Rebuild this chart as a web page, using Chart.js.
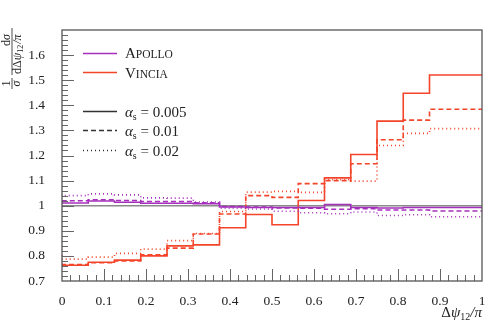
<!DOCTYPE html>
<html>
<head>
<meta charset="utf-8">
<script src="https://cdn.jsdelivr.net/npm/chart.js@4.4.1/dist/chart.umd.min.js"></script>
<style>
  html, body { margin: 0; padding: 0; background: #fff; }
  #wrap { width: 498px; height: 324px; }
</style>
</head>
<body>
<div id="wrap"><canvas id="chart"></canvas></div>
<script>
// bin edges of the histogram (x in units of pi)
const binEdges = [0, 0.0625, 0.125, 0.1875, 0.25, 0.3125, 0.375, 0.4375, 0.5,
                  0.5625, 0.625, 0.6875, 0.75, 0.8125, 0.875, 0.9375, 1];

// Apollo
const apolloA005 = [1.016, 1.011, 1.019, 1.014, 1.010, 1.010, 1.008, 0.995, 0.993, 0.993, 0.993, 1.005, 0.993, 0.991, 0.993, 0.993];
const apolloA01  = [1.019, 1.020, 1.024, 1.021, 1.017, 1.017, 1.012, 0.997, 0.995, 0.991, 0.990, 0.986, 0.988, 0.983, 0.983, 0.979];
const apolloA02  = [1.045, 1.040, 1.047, 1.043, 1.031, 1.030, 1.015, 0.990, 0.987, 0.978, 0.972, 0.968, 0.975, 0.961, 0.964, 0.956];

// Vincia
const vinciaA005 = [0.764, 0.763, 0.775, 0.783, 0.800, 0.840, 0.844, 0.912, 0.965, 0.924, 1.021, 1.111, 1.204, 1.337, 1.448, 1.521];
const vinciaA01  = [0.770, 0.766, 0.773, 0.780, 0.804, 0.831, 0.887, 0.967, 1.040, 1.033, 1.088, 1.100, 1.167, 1.263, 1.341, 1.384];
const vinciaA02  = [0.804, 0.787, 0.795, 0.810, 0.827, 0.861, 0.889, 0.977, 1.054, 1.057, 1.053, 1.104, 1.098, 1.240, 1.288, 1.307];

// reference line
const refLevel = 1;

const yTicks = [0.7, 0.8, 0.9, 1, 1.1, 1.2, 1.3, 1.4, 1.5, 1.6];

const PURPLE = '#a52fbc';
const RED = '#f4442a';
const SERIF = "'Liberation Serif', 'DejaVu Serif', serif";

function histo(vals) {
  return binEdges.map((x, i) => ({ x: x, y: vals[Math.min(i, vals.length - 1)] }));
}

function ds(vals, color, dash) {
  return {
    data: histo(vals),
    borderColor: color,
    borderWidth: 1.6,
    borderDash: dash,
    stepped: 'after',
    pointRadius: 0,
    fill: false
  };
}

const DASH = [5, 3];
const DOT = [1, 3];

function fmt(v) {
  return (Math.round(v * 10) / 10).toString();
}

// frame, inward ticks, legend and axis titles
const decorPlugin = {
  id: 'decor',
  afterDraw(chart) {
    const ctx = chart.ctx;
    const a = chart.chartArea;
    const xs = chart.scales.x, ys = chart.scales.y;
    ctx.save();

    // ticks
    ctx.strokeStyle = '#666';
    ctx.lineWidth = 1;
    for (let i = 1; i < 50; i++) {
      const px = Math.round(xs.getPixelForValue(i / 50)) + 0.5;
      const len = i % 5 === 0 ? 12 : 6;
      ctx.beginPath(); ctx.moveTo(px, a.bottom); ctx.lineTo(px, a.bottom - len); ctx.stroke();
    }
    for (let i = 1; i < 50; i++) {
      const py = Math.round(ys.getPixelForValue(0.7 + i * 0.02)) + 0.5;
      const len = i % 5 === 0 ? 12 : 6;
      ctx.beginPath(); ctx.moveTo(a.left, py); ctx.lineTo(a.left + len, py); ctx.stroke();
    }

    // frame
    ctx.strokeStyle = '#555';
    ctx.lineWidth = 1.3;
    ctx.strokeRect(a.left, a.top, a.right - a.left, a.bottom - a.top);

    // legend
    ctx.fillStyle = '#222';
    ctx.textBaseline = 'alphabetic';
    function smallCaps(text, x, y) {
      ctx.font = '15px ' + SERIF;
      ctx.fillText(text[0], x, y);
      let w = ctx.measureText(text[0]).width;
      ctx.font = '11.5px ' + SERIF;
      ctx.fillText(text.slice(1).toUpperCase(), x + w, y);
    }
    function legLine(y, color, dash) {
      ctx.strokeStyle = color;
      ctx.lineWidth = 1.6;
      ctx.setLineDash(dash);
      ctx.beginPath(); ctx.moveTo(83, y); ctx.lineTo(117, y); ctx.stroke();
      ctx.setLineDash([]);
    }
    legLine(53.5, PURPLE, []);
    smallCaps('Apollo', 125, 58);
    legLine(72.5, RED, []);
    smallCaps('Vincia', 125, 78);

    const alphaRows = [['0.005', 111.5, []], ['0.01', 130.5, DASH], ['0.02', 150.5, DOT]];
    alphaRows.forEach(r => {
      legLine(r[1], '#333', r[2]);
      let x = 125, y = r[1] + 5;
      ctx.fillStyle = '#222';
      ctx.font = 'italic 15px ' + SERIF;
      ctx.fillText('\u03b1', x, y);
      x += ctx.measureText('\u03b1').width;
      ctx.font = '10px ' + SERIF;
      ctx.fillText('s', x, y + 3);
      x += ctx.measureText('s').width;
      ctx.font = '15px ' + SERIF;
      ctx.fillText(' = ' + r[0], x, y);
    });

    // x axis title
    ctx.font = '15px ' + SERIF;
    const w1 = ctx.measureText('\u0394').width;
    ctx.font = 'italic 15px ' + SERIF;
    const w1b = ctx.measureText('\u03c8').width;
    ctx.font = '10px ' + SERIF;
    const w2 = ctx.measureText('12').width;
    ctx.font = 'italic 15px ' + SERIF;
    const w3 = ctx.measureText('/\u03c0').width;
    let tx = a.right - (w1 + w1b + w2 + w3);
    const ty = 317;
    ctx.font = '15px ' + SERIF;
    ctx.fillText('\u0394', tx, ty); tx += w1;
    ctx.font = 'italic 15px ' + SERIF;
    ctx.fillText('\u03c8', tx, ty); tx += w1b;
    ctx.font = '10px ' + SERIF;
    ctx.fillText('12', tx, ty + 3); tx += w2;
    ctx.font = 'italic 15px ' + SERIF;
    ctx.fillText('/\u03c0', tx, ty);

    // y axis title (rotated)
    ctx.translate(12, 103);
    ctx.rotate(-Math.PI / 2);
    ctx.strokeStyle = '#222';
    ctx.lineWidth = 0.8;
    ctx.textAlign = 'center';
    // 1/sigma
    ctx.beginPath(); ctx.moveTo(14, 0); ctx.lineTo(25, 0); ctx.stroke();
    ctx.font = '12px ' + SERIF;
    ctx.fillText('1', 19.5, -2);
    ctx.font = 'italic 12px ' + SERIF;
    ctx.fillText('\u03c3', 19.5, 8);
    // d sigma / d Delta psi12 / pi
    ctx.beginPath(); ctx.moveTo(28, 0); ctx.lineTo(75, 0); ctx.stroke();
    ctx.textAlign = 'left';
    ctx.font = '12px ' + SERIF;
    ctx.fillText('d', 57, -2);
    let u = 57 + ctx.measureText('d').width;
    ctx.font = 'italic 12px ' + SERIF;
    ctx.fillText('\u03c3', u, -2);
    u = 29;
    ctx.font = '12px ' + SERIF;
    ctx.fillText('d\u0394', u, 9); u += ctx.measureText('d\u0394').width;
    ctx.font = 'italic 12px ' + SERIF;
    ctx.fillText('\u03c8', u, 9); u += ctx.measureText('\u03c8').width;
    ctx.font = '8px ' + SERIF;
    ctx.fillText('12', u, 11); u += ctx.measureText('12').width + 1;
    ctx.font = 'italic 12px ' + SERIF;
    ctx.fillText('/\u03c0', u, 9);

    ctx.restore();
  }
};

Chart.defaults.font.family = SERIF;
Chart.defaults.color = '#222';

new Chart(document.getElementById('chart'), {
  type: 'line',
  data: {
    datasets: [
      ds(apolloA005, PURPLE, []),
      ds(apolloA01, PURPLE, DASH),
      ds(apolloA02, PURPLE, DOT),
      ds(vinciaA005, RED, []),
      ds(vinciaA01, RED, DASH),
      ds(vinciaA02, RED, DOT),
      {
        data: [{ x: 0, y: refLevel }, { x: 1, y: refLevel }],
        borderColor: '#8a8a8a',
        borderWidth: 1.5,
        pointRadius: 0,
        fill: false
      }
    ]
  },
  options: {
    responsive: true,
    maintainAspectRatio: false,
    animation: false,
    events: [],
    layout: { padding: { top: 30, right: 16, left: 0, bottom: 0 } },
    plugins: { legend: { display: false }, tooltip: { enabled: false } },
    scales: {
      x: {
        type: 'linear',
        min: 0, max: 1,
        grid: { display: false },
        border: { display: false },
        ticks: {
          stepSize: 0.1,
          padding: 4,
          font: { size: 13.5 },
          color: '#222',
          maxRotation: 0,
          callback: v => fmt(v)
        },
        afterFit: s => { s.height = 43; }
      },
      y: {
        type: 'linear',
        min: 0.7, max: 1.7,
        grid: { display: false },
        border: { display: false },
        afterBuildTicks: s => { s.ticks = yTicks.map(v => ({ value: v })); },
        ticks: {
          padding: 9,
          font: { size: 13.5 },
          color: '#222',
          callback: v => fmt(v)
        },
        afterFit: s => { s.width = 62; }
      }
    }
  },
  plugins: [decorPlugin]
});
</script>
</body>
</html>
